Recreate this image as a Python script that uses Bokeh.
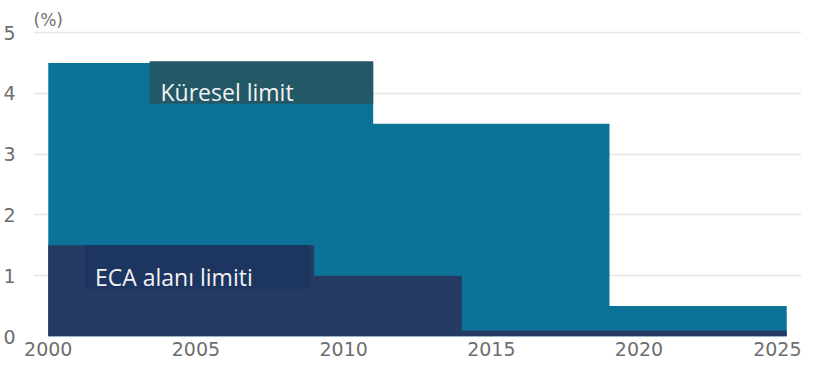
from bokeh.plotting import figure
from bokeh.models import FixedTicker, BoxAnnotation, Label, Range1d
from bokeh.embed import file_html
from bokeh.resources import INLINE

# Data
global_years = [2000, 2011, 2019, 2025]
global_limit = [4.5, 3.5, 0.5, 0.5]
eca_years = [2000, 2009, 2014, 2025]
eca_limit = [1.5, 1.0, 0.1, 0.1]
x_ticks = [2000, 2005, 2010, 2015, 2020, 2025]
y_ticks = [0, 1, 2, 3, 4, 5]
global_label = "Küresel limit"
eca_label = "ECA alanı limiti"
unit_label = "(%)"

p = figure(width=801, height=358, output_backend="svg", toolbar_location=None,
           x_range=Range1d(1999.5, 2025.5), y_range=Range1d(0, 5.53),
           min_border_left=0, min_border_right=0, min_border_top=0, min_border_bottom=0)
p.outline_line_color = None
p.background_fill_color = "white"
p.border_fill_color = "white"

p.varea_step(x=global_years, y1=[0] * len(global_years), y2=global_limit,
             step_mode="after", fill_color="#0c7398")
p.varea_step(x=eca_years, y1=[0] * len(eca_years), y2=eca_limit,
             step_mode="after", fill_color="#263b64")

# Label boxes
p.add_layout(BoxAnnotation(left=2003.43, right=2011.0, top=4.53, bottom=3.83,
                           fill_color="#235867", fill_alpha=1, line_color=None))
p.add_layout(BoxAnnotation(left=2001.25, right=2008.86, top=1.5, bottom=0.78,
                           fill_color="#1d3561", fill_alpha=1, line_color=None))
p.add_layout(Label(x=2003.8, y=4.03, text=global_label, text_font="Open Sans",
                   text_font_size="23px", text_color="#f2f2f2", text_baseline="alphabetic"))
p.add_layout(Label(x=2001.58, y=0.98, text=eca_label, text_font="Open Sans",
                   text_font_size="23px", text_color="#f2f2f2", text_baseline="alphabetic"))
p.add_layout(Label(x=1999.5, y=5.21, text=unit_label, text_font="DejaVu Sans",
                   text_font_size="17px", text_color="#707070", text_baseline="middle"))

for ax in (p.xaxis, p.yaxis):
    ax.axis_line_color = None
    ax.major_tick_line_color = None
    ax.minor_tick_line_color = None
    ax.major_tick_out = 0
    ax.major_tick_in = 0
    ax.minor_tick_out = 0
    ax.minor_tick_in = 0
    ax.major_label_text_font = "DejaVu Sans"
    ax.major_label_text_font_size = "19px"
    ax.major_label_text_color = "#6e6e6e"

p.xaxis.ticker = FixedTicker(ticks=x_ticks)
p.yaxis.ticker = FixedTicker(ticks=y_ticks)
p.xaxis.major_label_standoff = 5
p.yaxis.major_label_standoff = 18

p.xgrid.grid_line_color = None
p.ygrid.grid_line_color = "#e6e6e6"
p.ygrid.grid_line_width = 1.5

open("out.html", "w").write(file_html(p, INLINE))
